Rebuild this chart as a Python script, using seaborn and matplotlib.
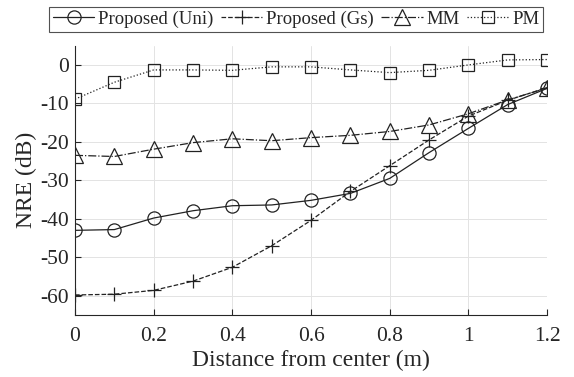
import numpy as np
import pandas as pd
import matplotlib
matplotlib.use("Agg")
import matplotlib.pyplot as plt
import seaborn as sns

# data
dist = [0, 0.1, 0.2, 0.3, 0.4, 0.5, 0.6, 0.7, 0.8, 0.9, 1.0, 1.1, 1.2]
nre_uni = [-43.0, -42.8, -39.8, -37.9, -36.6, -36.4, -35.2, -33.4, -29.5, -22.8, -16.5, -10.3, -6.1]
nre_gs = [-59.8, -59.6, -58.6, -56.2, -52.6, -47.0, -40.4, -32.9, -26.2, -19.5, -13.3, -9.2, -5.9]
nre_mm = [-23.5, -23.8, -21.9, -20.2, -19.2, -19.7, -18.9, -18.3, -17.3, -15.6, -12.7, -9.1, -6.0]
nre_pm = [-8.9, -4.5, -1.3, -1.3, -1.4, -0.5, -0.5, -1.3, -2.0, -1.4, 0.0, 1.3, 1.4]

labels = ["Proposed (Uni)", "Proposed (Gs)", "MM", "PM"]
xticks = [0, 0.2, 0.4, 0.6, 0.8, 1, 1.2]
xticklabels = ['0', '0.2', '0.4', '0.6', '0.8', '1', '1.2']
yticks = [0, -10, -20, -30, -40, -50, -60]

sns.set_style("white")
plt.rcParams['font.family'] = ['Liberation Serif', 'DejaVu Serif']
plt.rcParams['axes.unicode_minus'] = False

fig = plt.figure(figsize=(5.74, 3.77), dpi=100)
ax = fig.add_axes([0.1307, 0.1645, 0.8223, 0.7143])

txt = '#262626'
styles = [('-', 'o'), ('--', '+'), ('-.', '^'), (':', 's')]
sizes = [9.5, 10, 11, 8]
for y, lab, (ls, mk), ms in zip([nre_uni, nre_gs, nre_mm, nre_pm], labels, styles, sizes):
    sns.lineplot(x=dist, y=y, ax=ax, color='#222222', linestyle=ls, marker=mk,
                 markersize=ms, markerfacecolor='none', markeredgecolor='#222222',
                 markeredgewidth=0.9, linewidth=0.9, label=lab, legend=False)

ax.set_xlim(0, 1.2)
ax.set_ylim(-65, 5)
ax.set_xticks(xticks)
ax.set_xticklabels(xticklabels)
ax.set_yticks(yticks)
ax.grid(True, color='#e3e3e3', linewidth=0.7)
for s in ['top', 'right']:
    ax.spines[s].set_visible(False)
for s in ['left', 'bottom']:
    ax.spines[s].set_color(txt)
    ax.spines[s].set_linewidth(0.8)
ax.tick_params(direction='in', length=4, width=0.8, colors=txt, labelsize=15.5,
               left=True, bottom=True)
ax.tick_params(axis='x', pad=8.5)
ax.tick_params(axis='y', pad=4.5)
ax.set_xlabel('Distance from center (m)', fontsize=17, color=txt, labelpad=3)
ax.set_ylabel('NRE (dB)', fontsize=17, color=txt, labelpad=2)

h, l = ax.get_legend_handles_labels()
leg = fig.legend(h, l, loc='upper center', bbox_to_anchor=(0.516, 0.982), ncol=4,
                 fontsize=13.5, frameon=True, fancybox=False, handlelength=2.2,
                 handletextpad=0.2, columnspacing=0.4, borderpad=0.2,
                 borderaxespad=0)
leg.get_frame().set_edgecolor(txt)
leg.get_frame().set_linewidth(0.8)
for t in leg.get_texts():
    t.set_color(txt)

fig.savefig('out.png', dpi=100)
